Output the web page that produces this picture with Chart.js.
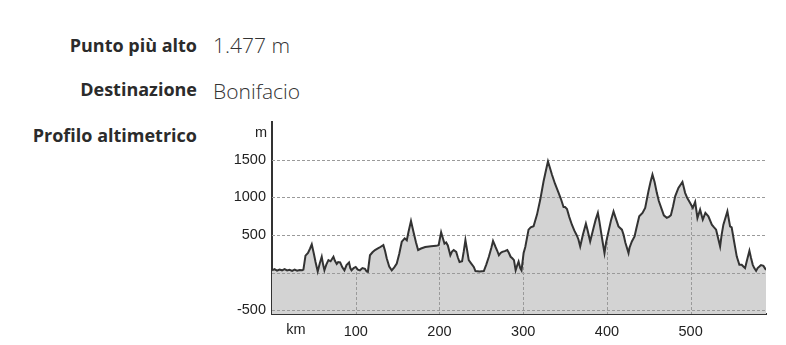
<!DOCTYPE html>
<html lang="it">
<head>
<meta charset="utf-8">
<title>Profilo altimetrico</title>
<script src="https://cdn.jsdelivr.net/npm/chart.js@4.4.1/dist/chart.umd.min.js"></script>
<style>
    html, body { margin: 0; padding: 0; background: #fff; }
    body { width: 786px; height: 345px; position: relative; overflow: hidden; font-family: "Open Sans", "Noto Sans", sans-serif; color: #333; }
    .label { position: absolute; right: 589px; font-weight: 700; font-size: 18px; line-height: 24px; white-space: nowrap; color: #2b2b2b; }
    .value { position: absolute; left: 213px; font-size: 21px; font-weight: 300; line-height: 26px; white-space: nowrap; }
    #chartBox { position: absolute; left: 215px; top: 115px; width: 565px; height: 230px; }
</style>
</head>
<body>

<div class="label" style="top:33px">Punto più alto</div>
<div class="value" style="top:32px">1.477 m</div>
<div class="label" style="top:77px">Destinazione</div>
<div class="value" style="top:78px">Bonifacio</div>
<div class="label" style="top:123px">Profilo altimetrico</div>

<div id="chartBox"><canvas id="profileChart"></canvas></div>

<script>
// --- data ---
const distanceKm = [
    0, 3, 6, 9, 12, 15, 18, 21, 24, 27, 30, 33, 36, 37.5, 40, 43, 45.5, 47.5, 50, 52,
    54.6, 57, 59.4, 61, 62.6, 65, 67.4, 70, 73.4, 75, 77.3, 79, 81.4, 84, 86.5, 89, 92, 93.5, 95, 97.5,
    100, 102.5, 105, 108, 111, 113, 114.5, 117, 120, 123, 128, 133, 135, 137, 140, 143, 146, 149, 152, 155,
    158.5, 161, 163, 166, 169, 172, 174.5, 178, 183, 190, 196, 199, 202, 204, 206, 208, 210, 213, 215, 217,
    220, 222, 224, 227, 229, 231, 233, 235, 238, 241, 243, 248, 253, 256, 259, 262, 264, 267, 269, 271,
    273, 275, 278, 281, 283, 285, 287, 289, 291, 293, 294.5, 296.5, 298, 300.5, 302.5, 306.4, 309, 312.4, 316.5, 320.4,
    324.3, 328, 329.6, 332, 334.4, 338, 342.3, 345, 348.2, 350, 352.3, 355, 358.2, 361, 364.2, 366, 368.1, 371.3, 374.9, 377,
    380, 384, 386.5, 389.2, 391, 393.2, 395, 397.1, 399, 401.9, 405, 407.9, 410, 413.8, 417.9, 420, 422, 425.8, 427, 429.8,
    433, 435, 438.6, 442.5, 445.7, 449.6, 452, 454.4, 457, 459.6, 462, 465.6, 468, 471.5, 474, 476.4, 479, 481.5, 485.4, 490.2,
    493.4, 496, 499.4, 502.6, 505.4, 508.1, 511.3, 514.5, 517.6, 521.2, 525.3, 528, 530.4, 535.2, 537, 539.1, 543.9, 547.1, 549, 551.9,
    555.1, 558.2, 561, 563, 565, 567, 570.2, 572, 574.2, 576, 578.2, 580, 582.1, 584, 586.9, 590
];
const elevationM = [
    30, 45, 25, 40, 30, 45, 28, 38, 22, 40, 25, 35, 30, 40, 225, 260, 320, 375, 250, 140,
    15, 120, 210, 110, 30, 110, 165, 150, 210, 160, 115, 140, 135, 70, 30, 100, 135, 60, 30, 60,
    75, 40, 30, 60, 50, 15, 10, 230, 270, 300, 330, 365, 290, 190, 80, 30, 70, 120, 250, 410,
    455, 430, 540, 685, 540, 400, 300, 320, 340, 350, 355, 365, 535, 460, 385, 400, 360, 230, 280, 300,
    275, 200, 140, 150, 280, 430, 300, 165, 120, 75, 20, 15, 20, 110, 210, 330, 420, 340, 290, 230,
    260, 275, 285, 300, 260, 210, 190, 165, 30, 100, 145, 60, 30, 260, 340, 570, 600, 615, 770, 970,
    1210, 1400, 1477, 1390, 1300, 1180, 1060, 980, 870, 870, 845, 740, 636, 560, 490, 440, 347, 503, 650, 560,
    413, 592, 700, 792, 680, 525, 400, 259, 400, 547, 700, 813, 740, 613, 570, 500, 400, 259, 330, 413,
    480, 580, 747, 792, 859, 1080, 1200, 1303, 1200, 1059, 950, 836, 760, 728, 740, 763, 880, 1013, 1125, 1205,
    1059, 990, 925, 859, 939, 725, 836, 703, 792, 747, 636, 600, 570, 347, 500, 636, 813, 613, 600, 413,
    213, 103, 103, 80, 59, 150, 289, 200, 103, 60, 23, 60, 80, 100, 89, 36
];
const xTickValues = [100, 200, 300, 400, 500];
const yTickValues = [-500, 0, 500, 1000, 1500];

document.addEventListener('DOMContentLoaded', function () {

    const points = distanceKm.map((km, i) => ({ x: km, y: elevationM[i] }));
    const tickFont = { family: '"Liberation Sans", Arial, sans-serif', size: 14.5 };
    const gridGray = '#9a9a9a';

    // dashed grid: horizontal lines over the fill, vertical lines only under the profile
    const profileGrid = {
        id: 'profileGrid',
        beforeDatasetDraw(chart) {
            const c = chart.ctx;
            const area = chart.chartArea;
            const xs = chart.scales.x;
            const ys = chart.scales.y;
            const pts = chart.getDatasetMeta(0).data;
            c.save();
            c.strokeStyle = gridGray;
            c.lineWidth = 1;
            c.setLineDash([3, 2]);
            yTickValues.forEach(v => {
                const y = Math.round(ys.getPixelForValue(v)) + 0.5;
                c.beginPath();
                c.moveTo(area.left, y);
                c.lineTo(area.right, y);
                c.stroke();
            });
            // clip to the area below the line
            c.beginPath();
            c.moveTo(pts[0].x, area.bottom);
            pts.forEach(p => c.lineTo(p.x, p.y));
            c.lineTo(pts[pts.length - 1].x, area.bottom);
            c.closePath();
            c.clip();
            xTickValues.forEach(v => {
                const x = Math.round(xs.getPixelForValue(v)) + 0.5;
                c.beginPath();
                c.moveTo(x, area.top);
                c.lineTo(x, area.bottom);
                c.stroke();
            });
            c.restore();
        },
        afterDraw(chart) {
            // unit labels "m" and "km" next to the axes
            const c = chart.ctx;
            const area = chart.chartArea;
            c.save();
            c.fillStyle = '#222';
            c.font = '14.5px "Liberation Sans", Arial, sans-serif';
            c.textBaseline = 'middle';
            c.textAlign = 'right';
            c.fillText('m', area.left - 5, area.top + 11);
            c.textAlign = 'center';
            c.fillText('km', area.left + 24, area.bottom + 16);
            c.restore();
        }
    };

    new Chart(document.getElementById('profileChart'), {
        type: 'line',
        data: {
            datasets: [{
                data: points,
                borderColor: '#333333',
                borderWidth: 2,
                backgroundColor: '#d3d3d3',
                fill: 'start',
                pointRadius: 0,
                tension: 0
            }]
        },
        options: {
            responsive: true,
            maintainAspectRatio: false,
            animation: false,
            layout: { padding: { top: 7, right: 14, left: 0, bottom: 0 } },
            scales: {
                x: {
                    type: 'linear',
                    min: 0,
                    max: 590,
                    afterBuildTicks: scale => { scale.ticks = xTickValues.map(v => ({ value: v })); },
                    afterFit: scale => { scale.height = 31; scale.paddingLeft = 0; scale.paddingRight = 0; },
                    grid: { display: false, drawTicks: false },
                    border: { display: true, color: '#333', width: 2 },
                    ticks: { color: '#222', font: tickFont, padding: 9, maxRotation: 0 }
                },
                y: {
                    min: -550,
                    max: 2000,
                    afterBuildTicks: scale => { scale.ticks = yTickValues.map(v => ({ value: v })); },
                    afterFit: scale => { scale.width = 57; scale.paddingTop = 0; scale.paddingBottom = 0; },
                    grid: { display: false, drawTicks: false },
                    border: { display: true, color: '#333', width: 2 },
                    ticks: {
                        color: '#222',
                        font: tickFont,
                        padding: 6,
                        callback: v => v === 0 ? '' : String(v)
                    }
                }
            },
            plugins: {
                legend: { display: false },
                tooltip: { enabled: false }
            }
        },
        plugins: [profileGrid]
    });

});
</script>
</body>
</html>
